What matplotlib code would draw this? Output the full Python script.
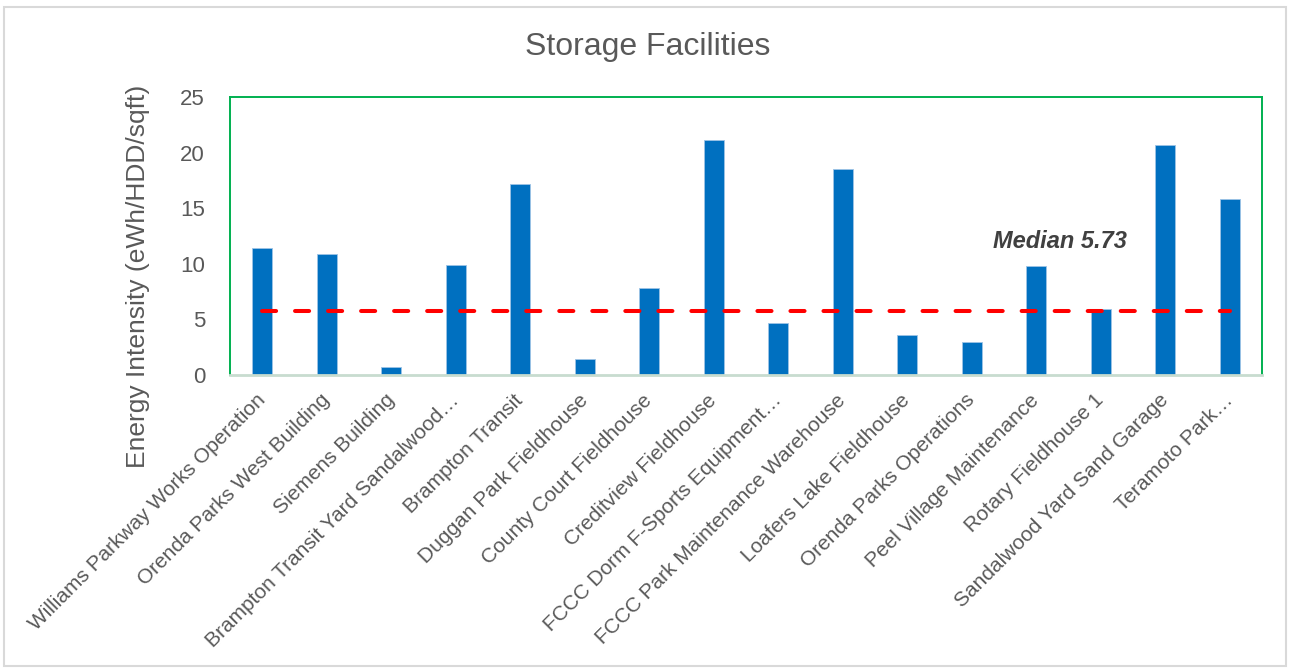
import matplotlib

matplotlib.use("Agg")
import matplotlib.pyplot as plt
from matplotlib.patches import Rectangle
import numpy as np

plt.rcParams["font.family"] = ["Liberation Sans", "DejaVu Sans"]

facilities = [
    "Williams Parkway Works Operation",
    "Orenda Parks West Building",
    "Siemens Building",
    "Brampton Transit Yard Sandalwood\u2026",
    "Brampton Transit",
    "Duggan Park Fieldhouse",
    "County Court Fieldhouse",
    "Creditview Fieldhouse",
    "FCCC Dorm F-Sports Equipment\u2026",
    "FCCC Park Maintenance Warehouse",
    "Loafers Lake Fieldhouse",
    "Orenda Parks Operations",
    "Peel Village Maintenance",
    "Rotary Fieldhouse 1",
    "Sandalwood Yard Sand Garage",
    "Teramoto Park\u2026",
]
intensity = [11.4, 10.9, 0.75, 9.9, 17.15, 1.47, 7.82, 21.1,
             4.68, 18.55, 3.57, 2.94, 9.8, 5.9, 20.65, 15.83]
median_value = 5.73
yticks = [0, 5, 10, 15, 20, 25]

TXT = "#595959"
x = np.arange(len(facilities))

fig = plt.figure(figsize=(12.89, 6.69), dpi=100)
ax = fig.add_axes([230 / 1289, 1 - 375 / 669, 1032 / 1289, 278 / 669])

ax.bar(x, intensity, width=0.31, color="#0070c0", edgecolor="#9dc3e6", linewidth=0.6, zorder=2)
# median reference line from first to last bar
ax.plot([x[0], x[-1]], [median_value, median_value], color="#ff0000", lw=2.9,
        linestyle=(0, (3.5, 4.7)), dash_capstyle="round", zorder=3)
ax.text(12.37, 12.0, f"Median {median_value:.2f}", fontsize=17, fontweight="bold",
        fontstyle="italic", color="#404040", ha="center", va="center")

ax.set_xlim(-0.5, len(facilities) - 0.5)
ax.set_ylim(0, 25)
ax.set_yticks(yticks)
ax.set_yticklabels([str(t) for t in yticks], fontsize=16, color=TXT)
ax.set_xticks(x)
ax.set_xticklabels(facilities, rotation=45, ha="right", va="center",
                   rotation_mode="anchor", fontsize=15, color=TXT)
ax.tick_params(axis="both", length=0)
ax.tick_params(axis="y", pad=18)
ax.tick_params(axis="x", pad=16)

for side in ["left", "top", "right"]:
    ax.spines[side].set_color("#00b050")
    ax.spines[side].set_linewidth(1.4)
ax.spines["bottom"].set_color("#c8dccf")
ax.spines["bottom"].set_linewidth(2.0)

ax.set_ylabel("Energy Intensity (eWh/HDD/sqft)", fontsize=19, color=TXT, labelpad=22)
ax.yaxis.set_label_coords(-0.078, 0.355)
fig.text(648 / 1289, 1 - 47 / 669, "Storage Facilities", fontsize=23, color=TXT,
         ha="center", va="center")

# outer chart border
fig.patches.append(Rectangle((4 / 1289, 3 / 669), 1282 / 1289, 659 / 669,
                             transform=fig.transFigure, fill=False,
                             edgecolor="#d9d9d9", linewidth=1.5))

fig.savefig("out.png", dpi=100)
plt.close(fig)
